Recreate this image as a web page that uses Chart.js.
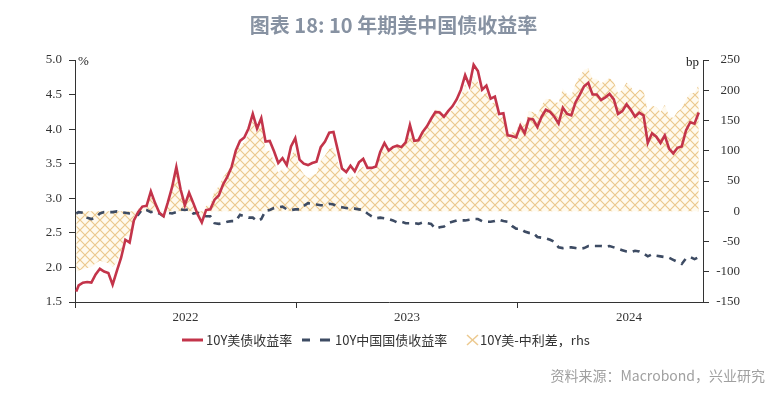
<!DOCTYPE html>
<html>
<head>
<meta charset="utf-8">
<script src="https://cdn.jsdelivr.net/npm/chart.js@4.4.1/dist/chart.umd.min.js"></script>
<style>
  body { margin: 0; background: #fff; }
  #wrap { position: relative; width: 778px; height: 394px; font-family: "Noto Sans CJK SC", "Noto Sans", sans-serif; }
  #chart { position: absolute; left: 0; top: 0; }
  #title { position: absolute; left: 0; top: 12px; width: 787px; text-align: center; font-size: 20px; line-height: 26px; font-weight: bold; color: #8792a2; }
  .unit { position: absolute; font-family: "Liberation Serif", serif; font-size: 13px; color: #222; line-height: 14px; }
  .leg { position: absolute; top: 332px; font-size: 13px; line-height: 16px; color: #333; white-space: nowrap; }
  .legsvg { position: absolute; top: 334px; }
  #source { position: absolute; right: 13px; top: 366px; font-size: 14px; line-height: 18px; color: #a0a0a0; }
</style>
</head>
<body>
<div id="wrap">
  <canvas id="chart" width="778" height="394"></canvas>
  <div id="title">图表 18: 10 年期美中国债收益率</div>
  <div class="unit" style="left:78px;top:54px">%</div>
  <div class="unit" style="left:686px;top:55px">bp</div>

  <svg class="legsvg" style="left:182px" width="22" height="12"><line x1="0" y1="6" x2="21" y2="6" stroke="#c3344a" stroke-width="3"/></svg>
  <div class="leg" style="left:206px">10Y美债收益率</div>
  <svg class="legsvg" style="left:302px" width="30" height="12"><line x1="0" y1="6" x2="8" y2="6" stroke="#3d4b63" stroke-width="3"/><line x1="18" y1="6" x2="28" y2="6" stroke="#3d4b63" stroke-width="3"/></svg>
  <div class="leg" style="left:335px">10Y中国国债收益率</div>
  <svg class="legsvg" style="left:466px" width="14" height="12"><line x1="1" y1="1" x2="12" y2="11" stroke="#ecc98f" stroke-width="1.5"/><line x1="12" y1="1" x2="1" y2="11" stroke="#ecc98f" stroke-width="1.5"/></svg>
  <div class="leg" style="left:480px">10Y美-中利差，rhs</div>

  <div id="source">资料来源：Macrobond，兴业研究</div>
</div>
<script>
const dates = [
  '2022-01-03','2022-01-07','2022-01-14','2022-01-21','2022-01-28',
  '2022-02-04','2022-02-11','2022-02-18','2022-02-25',
  '2022-03-04','2022-03-11','2022-03-18','2022-03-25',
  '2022-04-01','2022-04-08','2022-04-15','2022-04-22','2022-04-29',
  '2022-05-06','2022-05-13','2022-05-20','2022-05-27',
  '2022-06-03','2022-06-10','2022-06-17','2022-06-24',
  '2022-07-01','2022-07-08','2022-07-15','2022-07-22','2022-07-29',
  '2022-08-05','2022-08-12','2022-08-19','2022-08-26',
  '2022-09-02','2022-09-09','2022-09-16','2022-09-23','2022-09-30',
  '2022-10-07','2022-10-14','2022-10-21','2022-10-28',
  '2022-11-04','2022-11-11','2022-11-18','2022-11-25',
  '2022-12-02','2022-12-09','2022-12-16','2022-12-23','2022-12-30',
  '2023-01-06','2023-01-13','2023-01-20','2023-01-27',
  '2023-02-03','2023-02-10','2023-02-17','2023-02-24',
  '2023-03-03','2023-03-10','2023-03-17','2023-03-24','2023-03-31',
  '2023-04-07','2023-04-14','2023-04-21','2023-04-28',
  '2023-05-05','2023-05-12','2023-05-19','2023-05-26',
  '2023-06-02','2023-06-09','2023-06-16','2023-06-23','2023-06-30',
  '2023-07-07','2023-07-14','2023-07-21','2023-07-28',
  '2023-08-04','2023-08-11','2023-08-18','2023-08-25',
  '2023-09-01','2023-09-08','2023-09-15','2023-09-22','2023-09-29',
  '2023-10-06','2023-10-13','2023-10-20','2023-10-27',
  '2023-11-03','2023-11-10','2023-11-17','2023-11-24',
  '2023-12-01','2023-12-08','2023-12-15','2023-12-22','2023-12-29',
  '2024-01-05','2024-01-12','2024-01-19','2024-01-26',
  '2024-02-02','2024-02-09','2024-02-16','2024-02-23',
  '2024-03-01','2024-03-08','2024-03-15','2024-03-22','2024-03-29',
  '2024-04-05','2024-04-12','2024-04-19','2024-04-26',
  '2024-05-03','2024-05-10','2024-05-17','2024-05-24','2024-05-31',
  '2024-06-07','2024-06-14','2024-06-21','2024-06-28',
  '2024-07-05','2024-07-12','2024-07-19','2024-07-26',
  '2024-08-02','2024-08-09','2024-08-16','2024-08-23','2024-08-30',
  '2024-09-06','2024-09-13','2024-09-20','2024-09-27',
  '2024-10-04','2024-10-11','2024-10-18','2024-10-25'
];

// 10Y US treasury yield, %
const usYield = [
  1.65,1.74,1.78,1.79,1.78,
  1.90,1.98,1.94,1.92,
  1.75,1.95,2.14,2.40,
  2.36,2.68,2.80,2.88,2.89,
  3.10,2.93,2.79,2.74,
  2.94,3.16,3.45,3.13,
  2.90,3.08,2.93,2.77,2.65,
  2.83,2.84,2.98,3.04,
  3.20,3.31,3.45,3.69,3.83,
  3.88,4.01,4.22,4.01,
  4.16,3.82,3.83,3.68,
  3.51,3.58,3.48,3.75,3.87,
  3.56,3.50,3.48,3.51,
  3.53,3.74,3.82,3.95,
  3.96,3.70,3.43,3.38,3.47,
  3.39,3.52,3.57,3.44,
  3.44,3.46,3.67,3.80,
  3.69,3.74,3.76,3.74,3.81,
  4.06,3.83,3.84,3.96,
  4.04,4.15,4.25,4.24,
  4.18,4.26,4.33,4.43,4.57,
  4.78,4.63,4.93,4.84,
  4.57,4.63,4.44,4.47,
  4.22,4.23,3.91,3.90,3.88,
  4.05,3.94,4.15,4.14,
  4.03,4.18,4.28,4.25,
  4.18,4.08,4.31,4.22,4.20,
  4.39,4.50,4.62,4.67,
  4.50,4.50,4.42,4.46,4.51,
  4.43,4.22,4.26,4.36,
  4.28,4.18,4.24,4.20,
  3.80,3.94,3.89,3.80,3.91,
  3.72,3.65,3.73,3.75,
  3.98,4.10,4.08,4.24
];

// 10Y China government bond yield, %
const cnYield = [
  2.78,2.80,2.79,2.72,2.70,
  2.72,2.78,2.80,2.80,
  2.80,2.81,2.80,2.79,
  2.78,2.77,2.76,2.84,2.83,
  2.80,2.81,2.78,2.74,
  2.79,2.78,2.80,2.84,
  2.83,2.84,2.78,2.79,2.76,
  2.74,2.74,2.64,2.63,
  2.64,2.66,2.67,2.67,2.76,
  2.74,2.72,2.72,2.67,
  2.70,2.82,2.83,2.86,
  2.87,2.88,2.84,2.83,2.84,
  2.84,2.89,2.93,2.92,
  2.91,2.90,2.90,2.92,
  2.91,2.88,2.87,2.86,2.85,
  2.85,2.84,2.83,2.78,
  2.74,2.71,2.72,2.71,
  2.70,2.68,2.65,2.66,2.64,
  2.64,2.64,2.63,2.65,
  2.64,2.63,2.56,2.58,
  2.59,2.64,2.66,2.68,2.68,
  2.68,2.69,2.70,2.70,
  2.67,2.66,2.66,2.67,
  2.69,2.67,2.66,2.60,2.56,
  2.56,2.52,2.50,2.50,
  2.44,2.43,2.42,2.40,
  2.37,2.29,2.28,2.29,2.29,
  2.28,2.27,2.28,2.31,
  2.31,2.31,2.31,2.30,2.31,
  2.29,2.27,2.25,2.23,
  2.22,2.24,2.23,2.20,
  2.16,2.19,2.17,2.16,2.15,
  2.14,2.11,2.08,2.05,
  2.13,2.15,2.12,2.15
];

// US - China spread, bp (rhs)
const spreadBp = [
  -100,-98,-96,-94,-92,
  -86,-82,-84,-86,
  -92,-84,-66,-40,
  -42,-9,4,4,6,
  30,12,1,0,
  15,38,65,29,
  7,24,15,-2,-11,
  9,10,34,41,
  56,65,78,102,107,
  114,129,150,134,
  146,100,100,82,
  64,70,64,92,103,
  72,61,55,59,
  62,84,92,103,
  105,82,56,52,62,
  54,68,74,66,
  70,75,95,109,
  99,106,111,108,117,
  142,119,121,131,
  140,152,169,166,
  159,162,167,175,189,
  210,194,223,214,
  190,197,178,180,
  153,156,125,130,132,
  149,142,165,164,
  159,175,186,185,
  181,179,203,193,191,
  211,223,234,236,
  219,219,211,216,220,
  214,195,201,213,
  206,194,201,200,
  164,175,172,164,176,
  158,154,165,170,
  185,195,196,209
];

const yearLabels = ['2022', '2023', '2024'];
const yearStarts = [0, 365, 730];     // days from 2022-01-01
const yearMids = [182, 547, 913];

const t0 = Date.parse('2022-01-01');
const days = dates.map(d => Math.round((Date.parse(d) - t0) / 864e5));
const pts = arr => arr.map((v, i) => ({ x: days[i], y: v }));

const canvas = document.getElementById('chart');
const ctx = canvas.getContext('2d');

// cross-hatch for the spread area
const tile = document.createElement('canvas');
tile.width = 10; tile.height = 10;
const tg = tile.getContext('2d');
tg.fillStyle = 'rgba(255,248,232,0.75)';
tg.fillRect(0, 0, 10, 10);
tg.strokeStyle = 'rgba(232,192,125,0.85)';
tg.lineWidth = 1.2;
tg.beginPath();
tg.moveTo(-1, -1); tg.lineTo(11, 11);
tg.moveTo(11, -1); tg.lineTo(-1, 11);
tg.stroke();
const hatch = ctx.createPattern(tile, 'repeat');

const axisFont = { family: '"Liberation Serif", "DejaVu Serif", serif', size: 13 };
const axisColor = '#333';

// right axis labels, right-aligned like the original
const rightLabels = {
  id: 'rightLabels',
  afterDraw(chart) {
    const s = chart.scales.y2;
    const c = chart.ctx;
    c.save();
    c.font = '13px "Liberation Serif", serif';
    c.fillStyle = axisColor;
    c.textAlign = 'right';
    c.textBaseline = 'middle';
    s.ticks.forEach(t => {
      c.fillText(String(t.value), s.left + 37, s.getPixelForValue(t.value));
    });
    c.restore();
  }
};

new Chart(ctx, {
  type: 'line',
  data: {
    datasets: [
      {
        label: '10Y美债收益率',
        data: pts(usYield),
        yAxisID: 'y',
        borderColor: '#c3344a',
        borderWidth: 2.6,
        pointRadius: 0,
        tension: 0,
        fill: false
      },
      {
        label: '10Y中国国债收益率',
        data: pts(cnYield),
        yAxisID: 'y',
        borderColor: '#3d4b63',
        borderWidth: 2.6,
        borderDash: [7, 6],
        pointRadius: 0,
        tension: 0,
        fill: false
      },
      {
        label: '10Y美-中利差，rhs',
        data: pts(spreadBp),
        yAxisID: 'y2',
        borderColor: 'rgba(0,0,0,0)',
        borderWidth: 0,
        backgroundColor: hatch,
        pointRadius: 0,
        tension: 0,
        fill: 'origin'
      }
    ]
  },
  options: {
    responsive: false,
    animation: false,
    devicePixelRatio: 1,
    layout: { padding: { left: 0, right: 0, top: 60, bottom: 67 } },
    plugins: { legend: { display: false }, tooltip: { enabled: false } },
    scales: {
      x: {
        type: 'linear',
        min: 0,
        max: 1035,
        afterBuildTicks: s => {
          s.ticks = yearStarts.concat(yearMids).sort((a, b) => a - b).map(v => ({ value: v }));
        },
        ticks: {
          autoSkip: false,
          maxRotation: 0,
          padding: 2,
          color: axisColor,
          font: axisFont,
          callback: v => {
            const i = yearMids.indexOf(v);
            return i >= 0 ? yearLabels[i] : '';
          }
        },
        grid: {
          drawOnChartArea: false,
          tickLength: 6,
          tickColor: c => (c.tick && yearMids.includes(c.tick.value)) ? 'rgba(0,0,0,0)' : axisColor
        },
        border: { color: axisColor, width: 1 },
        afterFit: s => { s.height = 25; }
      },
      y: {
        position: 'left',
        min: 1.5,
        max: 5,
        ticks: { stepSize: 0.5, padding: 7, color: axisColor, font: axisFont, callback: v => v.toFixed(1) },
        grid: { drawOnChartArea: false, tickLength: 6, tickColor: axisColor },
        border: { color: axisColor, width: 1 },
        afterFit: s => { s.width = 75; }
      },
      y2: {
        position: 'right',
        min: -150,
        max: 250,
        ticks: { stepSize: 50, display: false },
        grid: { drawOnChartArea: false, tickLength: 6, tickColor: axisColor },
        border: { color: axisColor, width: 1 },
        afterFit: s => { s.width = 75; }
      }
    }
  },
  plugins: [rightLabels]
});
</script>
</body>
</html>
